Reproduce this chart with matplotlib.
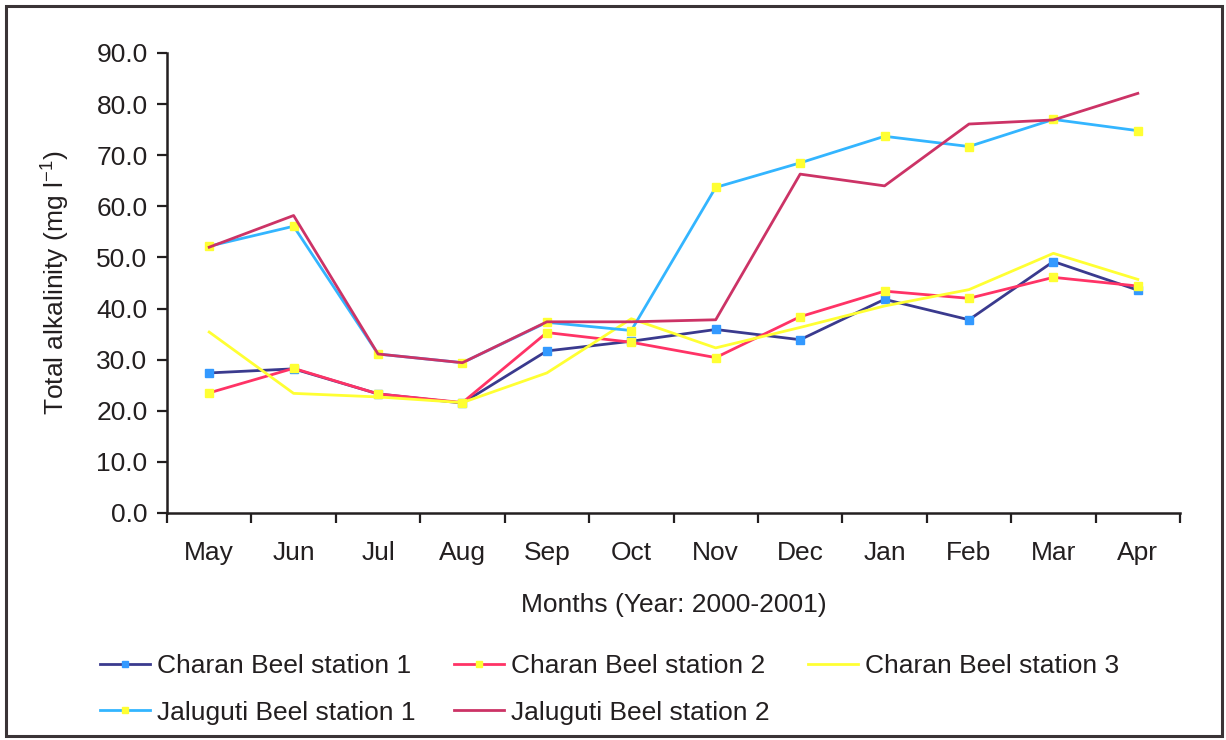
import matplotlib
matplotlib.use("Agg")
import matplotlib.pyplot as plt
from matplotlib.patches import Rectangle
from matplotlib.ticker import FixedLocator, FormatStrFormatter

plt.rcParams['font.family'] = ['Liberation Sans', 'DejaVu Sans']

months = ['May', 'Jun', 'Jul', 'Aug', 'Sep', 'Oct', 'Nov', 'Dec', 'Jan', 'Feb', 'Mar', 'Apr']

charan1 = [27.4, 28.2, 23.3, 21.5, 31.7, 33.6, 35.9, 33.9, 41.8, 37.8, 49.2, 43.6]
charan2 = [23.5, 28.3, 23.3, 21.6, 35.3, 33.4, 30.4, 38.4, 43.4, 42.0, 46.1, 44.4]
charan3 = [35.4, 23.4, 22.7, 21.6, 27.4, 38.0, 32.3, 36.3, 40.5, 43.7, 50.8, 45.7]
jalu1 = [52.2, 56.1, 31.1, 29.4, 37.3, 35.7, 63.7, 68.5, 73.7, 71.7, 77.0, 74.8]
jalu2 = [52.0, 58.2, 31.1, 29.4, 37.4, 37.4, 37.8, 66.3, 64.0, 76.1, 76.9, 82.1]

fs = 19
ink = '#231f20'

fig = plt.figure(figsize=(12.26, 7.4), dpi=100)
ax = fig.add_axes([0.1362, 0.3068, 0.8263, 0.6216])

x = list(range(len(months)))
lw = 2.0
l1, = ax.plot(x, charan1, color='#3a3a8e', lw=lw, marker='s', ms=5.5,
              mfc='#3399ff', mec='#3399ff', label='Charan Beel station 1')
l2, = ax.plot(x, charan2, color='#ff3366', lw=lw, marker='s', ms=5.5,
              mfc='#ffff33', mec='#ffff33', label='Charan Beel station 2')
l3, = ax.plot(x, charan3, color='#ffff33', lw=lw, label='Charan Beel station 3')
l4, = ax.plot(x, jalu1, color='#33b5ff', lw=lw, marker='s', ms=5.5,
              mfc='#ffff33', mec='#ffff33', label='Jaluguti Beel station 1')
l5, = ax.plot(x, jalu2, color='#cc3366', lw=lw, label='Jaluguti Beel station 2')

ax.set_xlim(-0.5, len(months) - 0.5)
ax.set_ylim(0, 90)
ax.set_yticks(range(0, 91, 10))
ax.yaxis.set_major_formatter(FormatStrFormatter('%.1f'))
ax.set_xticks(x)
ax.set_xticklabels(months)
ax.xaxis.set_minor_locator(FixedLocator([i - 0.5 for i in range(len(months) + 1)]))
ax.tick_params(axis='x', which='major', length=0, pad=20, labelsize=fs, colors=ink)
ax.tick_params(axis='x', which='minor', length=7, width=1.6, direction='out', color=ink)
ax.tick_params(axis='y', length=7, width=1.6, direction='out', pad=7, labelsize=fs,
               colors=ink)

for s in ['top', 'right']:
    ax.spines[s].set_visible(False)
for s in ['left', 'bottom']:
    ax.spines[s].set_linewidth(1.8)
    ax.spines[s].set_color(ink)

ax.set_ylabel('Total alkalinity (mg l$^{\\mathregular{-1}}$)', fontsize=fs, color=ink)
ax.yaxis.set_label_coords(-0.095, 0.5)
ax.set_xlabel('Months (Year: 2000-2001)', fontsize=fs, color=ink)
ax.xaxis.set_label_coords(0.5, -0.175)

handles = [l1, l4, l2, l5, l3]
leg = fig.legend(handles, [h.get_label() for h in handles], ncol=3, frameon=False,
                 loc='upper left', bbox_to_anchor=(0.0816, 1 - 654 / 740),
                 fontsize=fs, handlelength=1.9, handletextpad=0.27,
                 columnspacing=1.45, labelspacing=0.86, borderpad=0, borderaxespad=0,
                 markerscale=0.8)
for t in leg.get_texts():
    t.set_color(ink)

fig.patches.append(Rectangle((6 / 1226, 4 / 740), 1216 / 1226, 730 / 740,
                             transform=fig.transFigure, fill=False,
                             edgecolor='#3a3436', lw=2.2))

fig.savefig('out.png', dpi=100)
